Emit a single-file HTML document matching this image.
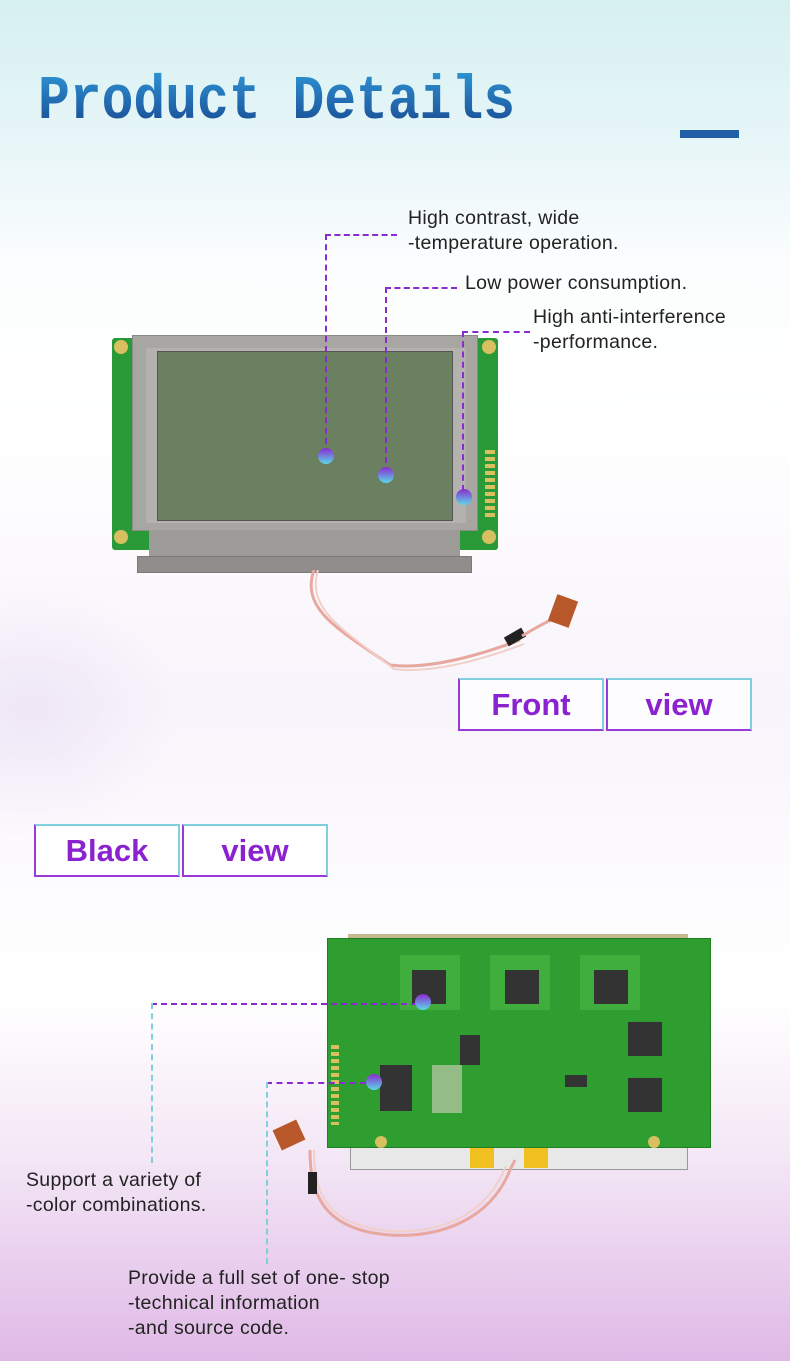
<!DOCTYPE html>
<html><head><meta charset="utf-8"><style>
*{margin:0;padding:0;box-sizing:border-box}
body{width:790px;height:1361px;position:relative;overflow:hidden;font-family:"Liberation Sans",sans-serif;
background:linear-gradient(180deg,#d6f0f2 0px,#e8f6f8 150px,#fbfdfe 260px,#ffffff 420px,#f8f4fb 700px,#fdfcfe 900px,#ffffff 1000px,#f4e8f6 1150px,#dfb9e6 1361px);}
.a{position:absolute}
.side{position:absolute;left:-120px;top:580px;width:300px;height:260px;border-radius:50%;background:radial-gradient(rgba(236,227,245,.8),rgba(255,255,255,0) 70%);}
.title{position:absolute;left:38px;top:66px;font-family:"Liberation Mono",monospace;font-weight:bold;font-size:53px;letter-spacing:0;transform:scaleY(1.18);transform-origin:0 0;
background:linear-gradient(180deg,#2f9ad8,#163f8a);-webkit-background-clip:text;background-clip:text;color:transparent}
.txt{position:absolute;font-size:19.5px;color:#222;line-height:25px;letter-spacing:.3px}
.dh{position:absolute;border-top:2px dashed #8a2bd0;height:0}
.dv{position:absolute;border-left:2px dashed #8a2bd0;width:0}
.dot{position:absolute;width:16px;height:16px;border-radius:50%;background:linear-gradient(180deg,#8a2bd0,#5bd8e8)}
.box{position:absolute;height:53px;border:2px solid #9a3ad6;border-top-color:#7fd0dc;border-right-color:#7fd0dc;font-size:31px;font-weight:bold;color:#8a22d0;text-align:center;line-height:50px;background:rgba(255,255,255,.7)}
</style></head><body>
<div class="side"></div>
<div class="title">Product Details</div>
<div class="a" style="left:680px;top:130px;width:59px;height:8px;background:#1f5fa8"></div>

<!-- front LCD -->
<div class="a" style="left:112px;top:338px;width:386px;height:212px;background:#2a9a38;border-radius:3px"></div>
<div class="a" style="left:114px;top:340px;width:14px;height:14px;border-radius:50%;background:#d8c060"></div>
<div class="a" style="left:482px;top:340px;width:14px;height:14px;border-radius:50%;background:#d8c060"></div>
<div class="a" style="left:114px;top:530px;width:14px;height:14px;border-radius:50%;background:#d8c060"></div>
<div class="a" style="left:482px;top:530px;width:14px;height:14px;border-radius:50%;background:#d8c060"></div>
<div class="a" style="left:485px;top:450px;width:10px;height:70px;background:repeating-linear-gradient(180deg,#d8c060 0 4px,#2a9a38 4px 7px)"></div>
<div class="a" style="left:132px;top:335px;width:346px;height:196px;background:#a7a6a2;border:1px solid #8c8b88"></div>
<div class="a" style="left:146px;top:348px;width:320px;height:175px;background:#b3b2ae"></div>
<div class="a" style="left:157px;top:351px;width:296px;height:170px;background:#6b8060;border:1px solid #555"></div>
<div class="a" style="left:149px;top:530px;width:311px;height:28px;background:#9c9b98"></div>
<div class="a" style="left:137px;top:556px;width:335px;height:17px;background:#8f8e8b;border:1px solid #7a7a78"></div>
<svg class="a" style="left:300px;top:570px" width="300" height="110"><path d="M14 0 C0 40,40 60,90 95 C130 100,180 85,220 70" stroke="#e8a8a0" stroke-width="3" fill="none"/><path d="M18 0 C6 40,44 60,94 99 C134 104,184 89,224 74" stroke="#f0d0c8" stroke-width="2" fill="none"/><rect x="205" y="62" width="20" height="10" fill="#222" transform="rotate(-30 215 67)"/><path d="M222 66 C240 55,250 50,262 45" stroke="#e8a8a0" stroke-width="3" fill="none"/><rect x="252" y="27" width="22" height="28" fill="#b8582a" transform="rotate(20 263 41)"/></svg>

<div class="dh" style="left:325px;top:234px;width:72px"></div>
<div class="dv" style="left:325px;top:234px;height:220px"></div>
<div class="dot" style="left:318px;top:448px"></div>
<div class="dh" style="left:385px;top:287px;width:72px"></div>
<div class="dv" style="left:385px;top:287px;height:186px"></div>
<div class="dot" style="left:378px;top:467px"></div>
<div class="dh" style="left:462px;top:331px;width:68px"></div>
<div class="dv" style="left:462px;top:331px;height:160px"></div>
<div class="dot" style="left:456px;top:489px"></div>
<div class="txt" style="left:408px;top:206px">High contrast, wide<br>-temperature operation.</div>
<div class="txt" style="left:465px;top:271px">Low power consumption.</div>
<div class="txt" style="left:533px;top:305px">High anti-interference<br>-performance.</div>

<div class="box" style="left:458px;top:678px;width:146px">Front</div>
<div class="box" style="left:606px;top:678px;width:146px">view</div>
<div class="box" style="left:34px;top:824px;width:146px">Black</div>
<div class="box" style="left:182px;top:824px;width:146px">view</div>

<!-- back PCB -->
<div class="a" style="left:350px;top:1146px;width:338px;height:24px;background:#e8e8e8;border:1px solid #999"></div>
<div class="a" style="left:470px;top:1146px;width:24px;height:22px;background:#f0c020"></div>
<div class="a" style="left:524px;top:1146px;width:24px;height:22px;background:#f0c020"></div>
<div class="a" style="left:348px;top:934px;width:340px;height:8px;background:#c8b890"></div>
<div class="a" style="left:327px;top:938px;width:384px;height:210px;background:#2e9e30;border:1px solid #1e7e20"></div>
<div class="a" style="left:400px;top:955px;width:60px;height:55px;background:#3fae3c"></div>
<div class="a" style="left:490px;top:955px;width:60px;height:55px;background:#3fae3c"></div>
<div class="a" style="left:580px;top:955px;width:60px;height:55px;background:#3fae3c"></div>
<div class="a" style="left:412px;top:970px;width:34px;height:34px;background:#333"></div>
<div class="a" style="left:505px;top:970px;width:34px;height:34px;background:#333"></div>
<div class="a" style="left:594px;top:970px;width:34px;height:34px;background:#333"></div>
<div class="a" style="left:628px;top:1022px;width:34px;height:34px;background:#333"></div>
<div class="a" style="left:628px;top:1078px;width:34px;height:34px;background:#333"></div>
<div class="a" style="left:380px;top:1065px;width:32px;height:46px;background:#333"></div>
<div class="a" style="left:432px;top:1065px;width:30px;height:48px;background:#d8d0c0;opacity:.6"></div>
<div class="a" style="left:460px;top:1035px;width:20px;height:30px;background:#333"></div>
<div class="a" style="left:565px;top:1075px;width:22px;height:12px;background:#333"></div>
<div class="a" style="left:331px;top:1045px;width:8px;height:80px;background:repeating-linear-gradient(180deg,#d8c060 0 4px,#2e9e30 4px 7px)"></div>
<div class="a" style="left:375px;top:1136px;width:12px;height:12px;border-radius:50%;background:#d8c060"></div>
<div class="a" style="left:648px;top:1136px;width:12px;height:12px;border-radius:50%;background:#d8c060"></div>
<svg class="a" style="left:270px;top:1110px" width="260" height="140"><path d="M40 40 C40 80,50 120,120 125 C170 128,220 110,240 60 L245 50" stroke="#e8a8a0" stroke-width="3" fill="none"/><path d="M44 40 C44 80,54 116,120 121 C170 124,216 106,236 56" stroke="#f0d0c8" stroke-width="2" fill="none"/><rect x="38" y="62" width="9" height="22" fill="#222"/><rect x="6" y="14" width="26" height="22" fill="#b8582a" transform="rotate(-25 19 25)"/></svg>

<div class="dh" style="left:151px;top:1003px;width:266px"></div>
<div class="dv" style="left:151px;top:1003px;height:160px;border-color:#7fd0dc"></div>
<div class="dot" style="left:415px;top:994px"></div>
<div class="dh" style="left:266px;top:1082px;width:100px"></div>
<div class="dv" style="left:266px;top:1082px;height:182px;border-color:#7fd0dc"></div>
<div class="dot" style="left:366px;top:1074px"></div>
<div class="txt" style="left:26px;top:1168px">Support a variety of<br>-color combinations.</div>
<div class="txt" style="left:128px;top:1266px">Provide a full set of one- stop<br>-technical information<br>-and source code.</div>
</body></html>
